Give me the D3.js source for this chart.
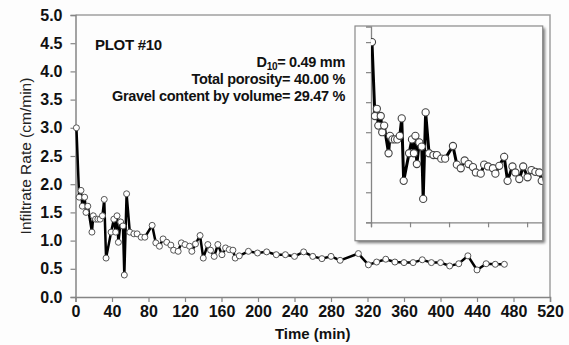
<!DOCTYPE html>
<html>
<head>
<meta charset="utf-8">
<script src="https://cdn.jsdelivr.net/npm/d3@7"></script>
<style>
  body { margin: 0; background: #fdfdfd; }
  svg { display: block; font-family: "Liberation Sans", Arial, sans-serif; }
</style>
</head>
<body>
<svg width="569" height="345"></svg>
<script>
// time (min) and infiltration rate (cm/min)
var times = [1, 4, 6, 7.5, 10, 11.5, 13.5, 18, 19.5, 22, 24.5, 27, 29.5, 31.5, 33.5,
  39, 42, 44, 45.5, 47, 49.5, 52, 53.5, 56, 59.5, 64, 67.5, 72, 76, 84, 88, 92, 96,
  100, 104.5, 107.5, 112.5, 116, 120, 125, 127.5, 131.5, 136.5, 140, 145, 148, 152,
  156, 160.5, 164.5, 168.5, 172.5, 175, 179.5, 189.5, 199.5, 209.5, 220, 230, 240,
  250, 260, 270, 280, 290, 310, 321, 330, 340, 350, 360, 370, 380, 390, 400, 410,
  420, 430, 440, 450, 460, 470];
var rates = [3.0, 1.77, 1.89, 1.61, 1.77, 1.50, 1.61, 1.15, 1.44, 1.38, 1.38, 1.38, 1.44, 1.73, 0.69,
  1.15, 1.38, 1.15, 1.44, 0.97, 1.33, 1.26, 0.39, 1.83, 1.15, 1.12, 1.12, 1.06, 1.06, 1.27, 0.96, 0.90, 1.03,
  0.97, 0.92, 0.83, 0.81, 0.96, 0.93, 0.90, 0.81, 0.94, 1.09, 0.69, 0.93, 0.83, 0.72,
  0.93, 0.75, 0.87, 0.84, 0.83, 0.69, 0.73, 0.81, 0.78, 0.80, 0.75, 0.75, 0.72,
  0.80, 0.72, 0.68, 0.72, 0.65, 0.77, 0.57, 0.62, 0.67, 0.62, 0.61, 0.61, 0.66, 0.61, 0.61, 0.55,
  0.59, 0.73, 0.48, 0.59, 0.58, 0.58];

var xTicks = d3.range(0, 521, 40);
var yTicks = d3.range(0, 5.01, 0.5);
var insetXTicks = d3.range(0, 161, 40);
var insetYTicks = d3.range(0, 3.01, 0.5);

var labelLines = ["Total porosity= 40.00 %", "Gravel content by volume= 29.47 %"];

var data = times.map(function (t, i) { return { t: t, v: rates[i] }; });

var svg = d3.select("svg");
var axisColor = "#858585";

// main plot
var x = d3.scaleLinear().domain([0, 520]).range([75.5, 550]);
var y = d3.scaleLinear().domain([0, 5]).range([297, 15]);

// frame top / right
svg.append("path")
  .attr("d", "M" + x(0) + "," + y(5) + "H" + x(520) + "V" + y(0))
  .attr("fill", "none").attr("stroke", "#a0a0a0").attr("stroke-width", 1.5);

var gx = svg.append("g").attr("transform", "translate(0," + y(0) + ")")
  .call(d3.axisBottom(x).tickValues(xTicks).tickSize(5).tickPadding(7).tickFormat(d3.format("d")));
var gy = svg.append("g").attr("transform", "translate(" + x(0) + ",0)")
  .call(d3.axisLeft(y).tickValues(yTicks).tickSize(5).tickPadding(8).tickFormat(d3.format(".1f")));

[gx, gy].forEach(function (g) {
  g.select(".domain").attr("stroke", axisColor).attr("stroke-width", 1.5);
  g.selectAll(".tick line").attr("stroke", axisColor).attr("stroke-width", 1.2);
  g.selectAll("text").attr("font-size", 16).attr("font-weight", "bold").attr("fill", "#111")
    .attr("font-family", "'Liberation Sans', Arial, sans-serif");
});
gx.selectAll("text").attr("dy", "0.5em");

svg.append("text")
  .attr("x", x(260)).attr("y", 339)
  .attr("text-anchor", "middle").attr("font-size", 15).attr("font-weight", "bold")
  .attr("fill", "#111").text("Time (min)");

svg.append("text")
  .attr("transform", "translate(31,156) rotate(-90)")
  .attr("text-anchor", "middle").attr("font-size", 15.5)
  .attr("fill", "#222").text("Infiltrate Rate (cm/min)");

var line = d3.line().x(function (d) { return x(d.t); }).y(function (d) { return y(d.v); });

svg.append("path").datum(data)
  .attr("d", line).attr("fill", "none").attr("stroke", "#000").attr("stroke-width", 2.5);

svg.append("g").selectAll("circle").data(data).enter().append("circle")
  .attr("cx", function (d) { return x(d.t); })
  .attr("cy", function (d) { return y(d.v); })
  .attr("r", 3).attr("fill", "#fff").attr("stroke", "#555").attr("stroke-width", 1);

// annotations
svg.append("text").attr("x", 95).attr("y", 50)
  .attr("font-size", 15).attr("font-weight", "bold").attr("fill", "#111")
  .attr("letter-spacing", -0.3).text("PLOT #10");

var d10 = svg.append("text").attr("x", 345).attr("y", 67)
  .attr("text-anchor", "end").attr("font-size", 14.5).attr("font-weight", "bold")
  .attr("fill", "#111").attr("letter-spacing", -0.3);
d10.append("tspan").text("D");
d10.append("tspan").attr("font-size", 10).attr("dy", 3).text("10");
d10.append("tspan").attr("dy", -3).text("= 0.49 mm");

svg.append("g").selectAll("text").data(labelLines).enter().append("text")
  .attr("x", 345).attr("y", function (d, i) { return 84 + i * 17; })
  .attr("text-anchor", "end").attr("font-size", 14.5).attr("font-weight", "bold")
  .attr("fill", "#111").attr("letter-spacing", -0.3)
  .text(function (d) { return d; });

// inset
var defs = svg.append("defs");
var f = defs.append("filter").attr("id", "shadow").attr("x", "-10%").attr("y", "-10%")
  .attr("width", "130%").attr("height", "130%");
f.append("feGaussianBlur").attr("stdDeviation", 1.5);

var ix = d3.scaleLinear().domain([0, 176]).range([371, 542.7]);
var iy = d3.scaleLinear().domain([0, 3.26]).range([222.3, 26.5]);

svg.append("rect").attr("x", 357).attr("y", 28).attr("width", 188).attr("height", 215)
  .attr("fill", "#777").attr("filter", "url(#shadow)");
svg.append("rect").attr("x", 355).attr("y", 26).attr("width", 187.7).attr("height", 214.7)
  .attr("fill", "#fdfdfd").attr("stroke", "#8a8a8a").attr("stroke-width", 1.2);

defs.append("clipPath").attr("id", "insetClip").append("rect")
  .attr("x", ix(0)).attr("y", iy(3.26)).attr("width", ix(176) - ix(0)).attr("height", iy(0) - iy(3.26));

var igx = svg.append("g").attr("transform", "translate(0," + iy(0) + ")")
  .call(d3.axisBottom(ix).tickValues(insetXTicks).tickSize(5).tickFormat(""));
var igy = svg.append("g").attr("transform", "translate(" + ix(0) + ",0)")
  .call(d3.axisLeft(iy).tickValues(insetYTicks).tickSize(5).tickFormat(""));
[igx, igy].forEach(function (g) {
  g.select(".domain").attr("stroke", axisColor).attr("stroke-width", 1.3);
  g.selectAll(".tick line").attr("stroke", axisColor).attr("stroke-width", 1.2);
});

var iline = d3.line().x(function (d) { return ix(d.t); }).y(function (d) { return iy(d.v); });
var ig = svg.append("g").attr("clip-path", "url(#insetClip)");
ig.append("path").datum(data)
  .attr("d", iline).attr("fill", "none").attr("stroke", "#000").attr("stroke-width", 3);
ig.selectAll("circle").data(data).enter().append("circle")
  .attr("cx", function (d) { return ix(d.t); })
  .attr("cy", function (d) { return iy(d.v); })
  .attr("r", 3.6).attr("fill", "#fff").attr("stroke", "#444").attr("stroke-width", 1.1);
</script>
</body>
</html>
